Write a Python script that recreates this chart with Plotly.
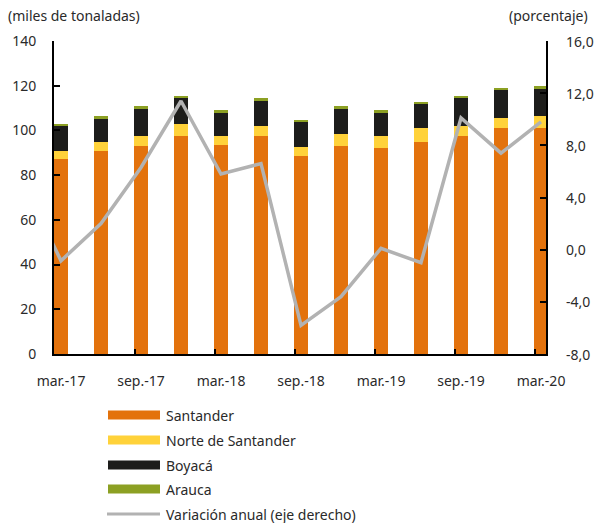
import plotly.graph_objects as go

# quarterly periods, mar.-17 .. mar.-20
periodos = ["mar.-17", "jun.-17", "sep.-17", "dic.-17", "mar.-18", "jun.-18", "sep.-18",
            "dic.-18", "mar.-19", "jun.-19", "sep.-19", "dic.-19", "mar.-20"]
tick_labels = ["mar.-17", "sep.-17", "mar.-18", "sep.-18", "mar.-19", "sep.-19", "mar.-20"]

# miles de toneladas
santander = [87.4, 91.0, 93.0, 97.4, 93.7, 97.3, 88.5, 93.0, 92.1, 94.7, 97.4, 101.0, 101.0]
norte_santander = [3.6, 3.7, 4.4, 5.4, 3.7, 4.5, 4.3, 5.3, 5.3, 6.4, 4.5, 4.5, 5.4]
boyaca = [10.9, 10.6, 12.4, 11.5, 10.6, 11.4, 10.8, 11.5, 10.6, 10.5, 12.5, 12.4, 12.3]
arauca = [0.9, 1.1, 1.0, 1.0, 1.1, 1.1, 1.0, 1.0, 1.1, 1.1, 1.0, 1.0, 1.1]

# variacion anual (%), first value is dic.-16 (only its segment shows at the left edge)
variacion_prev = 5.5
variacion = [-0.85, 2.0, 6.3, 11.4, 5.8, 6.6, -5.8, -3.6, 0.1, -1.0, 10.1, 7.4, 9.8]

y2_ticks = [-8, -4, 0, 4, 8, 12, 16]

COLORS = {
    "Santander": "#E3720C",
    "Norte de Santander": "#FFD23A",
    "Boyacá": "#1D1D1B",
    "Arauca": "#8CA023",
}
LINE_COLOR = "#B2B2B2"
FONT = "Noto Sans"
FS = 14
TXT = "#2A2A2A"

# plot area in pixels
L, R, T, B = 54, 546, 41, 354
W, H = R - L, B - T


def px_x(px):
    return (px - L) / W


def px_y(py):
    return (B - py) / H


x = list(range(len(periodos)))

fig = go.Figure()

for name, vals in [("Santander", santander), ("Norte de Santander", norte_santander),
                   ("Boyacá", boyaca), ("Arauca", arauca)]:
    fig.add_trace(go.Bar(
        x=x, y=vals, name=name, width=0.35,
        marker=dict(color=COLORS[name], line=dict(width=0)),
        showlegend=False,
    ))

fig.add_trace(go.Scatter(
    x=[-1] + x, y=[variacion_prev] + variacion,
    mode="lines", name="Variación anual (eje derecho)",
    line=dict(color=LINE_COLOR, width=3.5),
    yaxis="y2", showlegend=False,
))

# custom legend (wide swatches)
legend_items = [
    ("Santander", "bar", COLORS["Santander"], 415),
    ("Norte de Santander", "bar", COLORS["Norte de Santander"], 440),
    ("Boyacá", "bar", COLORS["Boyacá"], 465),
    ("Arauca", "bar", COLORS["Arauca"], 489),
    ("Variación anual (eje derecho)", "line", LINE_COLOR, 514),
]
shapes = []
annotations = []
for label, kind, color, cy in legend_items:
    if kind == "bar":
        shapes.append(dict(type="rect", xref="paper", yref="paper",
                           x0=px_x(108), x1=px_x(160), y0=px_y(cy + 4.5), y1=px_y(cy - 4.5),
                           fillcolor=color, line=dict(width=0)))
    else:
        shapes.append(dict(type="line", xref="paper", yref="paper",
                           x0=px_x(107), x1=px_x(160), y0=px_y(cy), y1=px_y(cy),
                           line=dict(color=color, width=3)))
    annotations.append(dict(text=label, xref="paper", yref="paper",
                            x=px_x(164), y=px_y(cy), xanchor="left", yanchor="middle",
                            showarrow=False, font=dict(family=FONT, size=FS, color=TXT)))

annotations.append(dict(text="(miles de tonaladas)", xref="paper", yref="paper",
                        x=px_x(6), y=px_y(15), xanchor="left", yanchor="middle",
                        showarrow=False, font=dict(family=FONT, size=FS, color=TXT)))
annotations.append(dict(text="(porcentaje)", xref="paper", yref="paper",
                        x=px_x(507), y=px_y(15), xanchor="left", yanchor="middle",
                        showarrow=False, font=dict(family=FONT, size=FS, color=TXT)))

# right axis labels sit further out than plotly puts them, so they are placed by hand
for v in y2_ticks:
    annotations.append(dict(text=f"{v:.1f}".replace(".", ","), xref="paper", yref="y2",
                            x=px_x(564), y=v, xanchor="left", yanchor="middle",
                            showarrow=False, font=dict(family=FONT, size=FS, color=TXT)))

fig.update_layout(
    width=599, height=523,
    margin=dict(l=L, r=599 - R, t=T, b=523 - B),
    barmode="stack",
    plot_bgcolor="white", paper_bgcolor="white",
    font=dict(family=FONT, size=FS, color=TXT),
    showlegend=False,
    shapes=shapes,
    annotations=annotations,
    xaxis=dict(
        range=[-0.175, 12.125], showgrid=False, zeroline=False,
        showline=True, linecolor="black", linewidth=2,
        tickmode="array", tickvals=[0, 2, 4, 6, 8, 10, 12], ticktext=tick_labels,
        ticks="", ticklabelstandoff=13,
        minor=dict(tickmode="array", tickvals=[1.85, 3.85, 5.85, 7.85, 9.85, 11.85],
                   ticks="inside", ticklen=5, tickcolor="black", tickwidth=2),
    ),
    yaxis=dict(
        range=[0, 140], dtick=20, showgrid=False, zeroline=False,
        showline=True, linecolor="black", linewidth=2,
        ticks="inside", ticklen=6, tickwidth=2, tickcolor="black",
        ticklabelstandoff=13,
    ),
    yaxis2=dict(
        range=[-8, 16], overlaying="y", side="right", showgrid=False, zeroline=False,
        showline=True, linecolor="black", linewidth=2,
        tickmode="array", tickvals=y2_ticks, showticklabels=False,
        ticks="inside", ticklen=6, tickwidth=2, tickcolor="black",
    ),
)

# page body has a default margin that shifts the figure
fig.write_html("out.html", config={"displayModeBar": False},
               post_script="document.body.style.margin='0';")
